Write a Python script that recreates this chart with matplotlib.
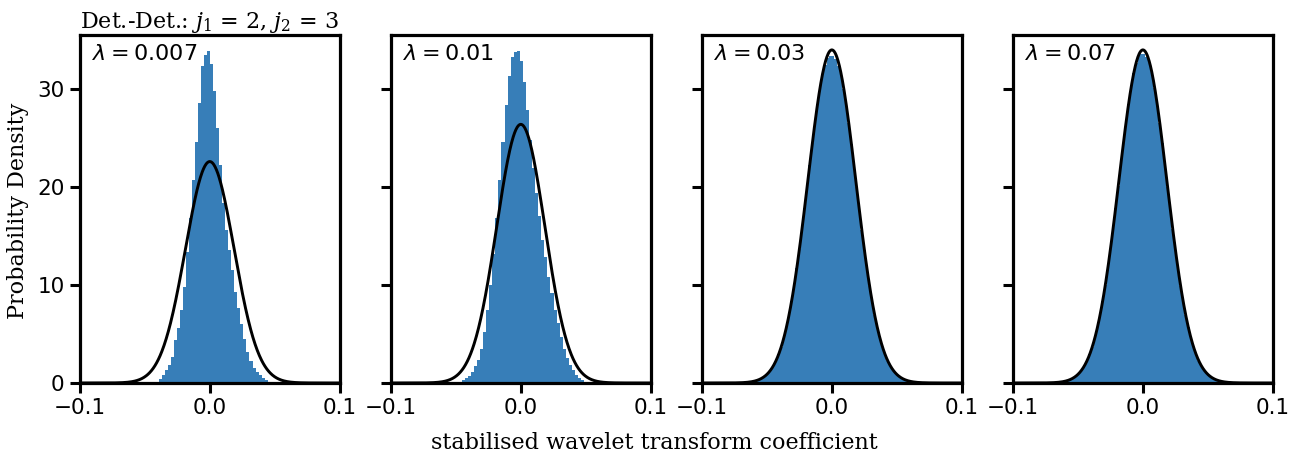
import numpy as np
import matplotlib
matplotlib.use("Agg")
import matplotlib.pyplot as plt

# ---------------- data ----------------
lambdas = ["0.007", "0.01", "0.03", "0.07"]

# histogram bin start and width per panel
bin_starts = [-0.0393, -0.0456, -0.070, -0.070]
bin_widths = [0.00233, 0.00236, 0.0020, 0.0020]

heights_1 = [0.37, 0.8, 1.3, 1.8, 2.7, 4.4, 5.6, 7.4, 9.8, 13.4, 16.8, 20.7,
             24.6, 28.6, 32.4, 33.5, 33.9, 32.6, 29.8, 26.0, 22.3, 18.4, 15.6,
             13.6, 11.5, 9.3, 7.7, 6.0, 4.5, 3.2, 2.2, 1.5, 1.1, 0.8, 0.5, 0.3]

heights_2 = [0.3, 0.5, 0.7, 1.15, 1.7, 2.35, 3.5, 5.2, 7.4, 10.0, 13.2, 16.8,
             20.7, 24.6, 28.4, 31.3, 33.3, 33.8, 33.9, 32.9, 30.7, 27.9, 24.8,
             21.9, 19.4, 17.0, 14.6, 12.9, 10.8, 9.2, 7.4, 6.1, 4.7, 3.5, 2.5,
             1.8, 1.3, 0.8, 0.5, 0.3]

heights_3 = [0.03, 0.05, 0.07, 0.10, 0.15, 0.21, 0.30, 0.42, 0.57, 0.77, 1.03,
             1.36, 1.77, 2.30, 2.93, 3.70, 4.62, 5.70, 6.95, 8.36, 9.96, 11.73,
             13.65, 15.72, 17.86, 20.08, 22.30, 24.48, 26.55, 28.45, 30.10,
             31.50, 32.50, 33.15, 33.40,
             33.35, 33.05, 32.40, 31.40, 30.00, 28.40, 26.50, 24.42, 22.25,
             20.02, 17.80, 15.66, 13.60, 11.68, 9.92, 8.32, 6.90, 5.66, 4.58,
             3.66, 2.90, 2.27, 1.75, 1.34, 1.01, 0.75, 0.55, 0.40, 0.29, 0.21,
             0.14, 0.10, 0.07, 0.04, 0.03]

heights_4 = [0.03, 0.04, 0.07, 0.10, 0.14, 0.21, 0.30, 0.41, 0.56, 0.76, 1.02,
             1.35, 1.76, 2.28, 2.92, 3.68, 4.60, 5.68, 6.93, 8.35, 9.95, 11.72,
             13.64, 15.70, 17.85, 20.07, 22.29, 24.48, 26.56, 28.49, 30.20,
             31.60, 32.70, 33.40, 33.60,
             33.55, 33.30, 32.70, 31.60, 30.15, 28.45, 26.52, 24.45, 22.27,
             20.05, 17.83, 15.68, 13.62, 11.70, 9.94, 8.34, 6.92, 5.67, 4.59,
             3.67, 2.91, 2.28, 1.76, 1.35, 1.02, 0.76, 0.56, 0.41, 0.30, 0.21,
             0.15, 0.10, 0.07, 0.05, 0.03]

heights = [heights_1, heights_2, heights_3, heights_4]

# overlaid normal curve: centre, peak height and width per panel
curve_means = [0.0, 0.0, 0.0, 0.0]
curve_peaks = [22.6, 26.4, 34.0, 34.0]
curve_stds = [0.0187, 0.0185, 0.0185, 0.0185]

xticks = [-0.1, 0.0, 0.1]
xtick_labels = ["\u22120.1", "0.0", "0.1"]
yticks = [0, 10, 20, 30]

hist_color = "#377eb8"

# ---------------- figure ----------------
fig, axes = plt.subplots(1, 4, figsize=(13, 4.57), dpi=100, sharey=True)
fig.subplots_adjust(left=0.0615, right=0.979, bottom=0.162, top=0.923,
                    wspace=0.198)

xs = np.linspace(-0.1, 0.1, 600)
for i, ax in enumerate(axes):
    h = np.array(heights[i])
    edges = bin_starts[i] + bin_widths[i] * np.arange(len(h))
    ax.bar(edges, h, width=bin_widths[i], align="edge", color=hist_color,
           linewidth=0)
    mu, sd, pk = curve_means[i], curve_stds[i], curve_peaks[i]
    curve = pk * np.exp(-0.5 * ((xs - mu) / sd) ** 2)
    ax.plot(xs, curve, color="black", lw=2.1)

    ax.set_xlim(-0.1, 0.1)
    ax.set_ylim(0, 35.5)
    ax.set_xticks(xticks)
    ax.set_xticklabels(xtick_labels)
    ax.set_yticks(yticks)
    for s in ax.spines.values():
        s.set_linewidth(2.3)
    ax.tick_params(axis="both", direction="out", length=7, width=2.2,
                   labelsize=15.5, pad=4)
    ax.text(0.045, 0.945, r"$\lambda = %s$" % lambdas[i],
            transform=ax.transAxes, fontsize=16, ha="left", va="center")

axes[0].set_title(r"Det.-Det.: $j_1$ = 2, $j_2$ = 3", loc="left",
                  family="DejaVu Serif", fontsize=16,
                  math_fontfamily="dejavuserif", pad=5)

fig.text(0.014, 0.538, "Probability Density", rotation=90, ha="center",
         va="center", family="DejaVu Serif", fontsize=16)
fig.text(0.5035, 0.031, "stabilised wavelet transform coefficient",
         ha="center", va="center", family="DejaVu Serif", fontsize=16)

fig.savefig("out.png", dpi=100)
